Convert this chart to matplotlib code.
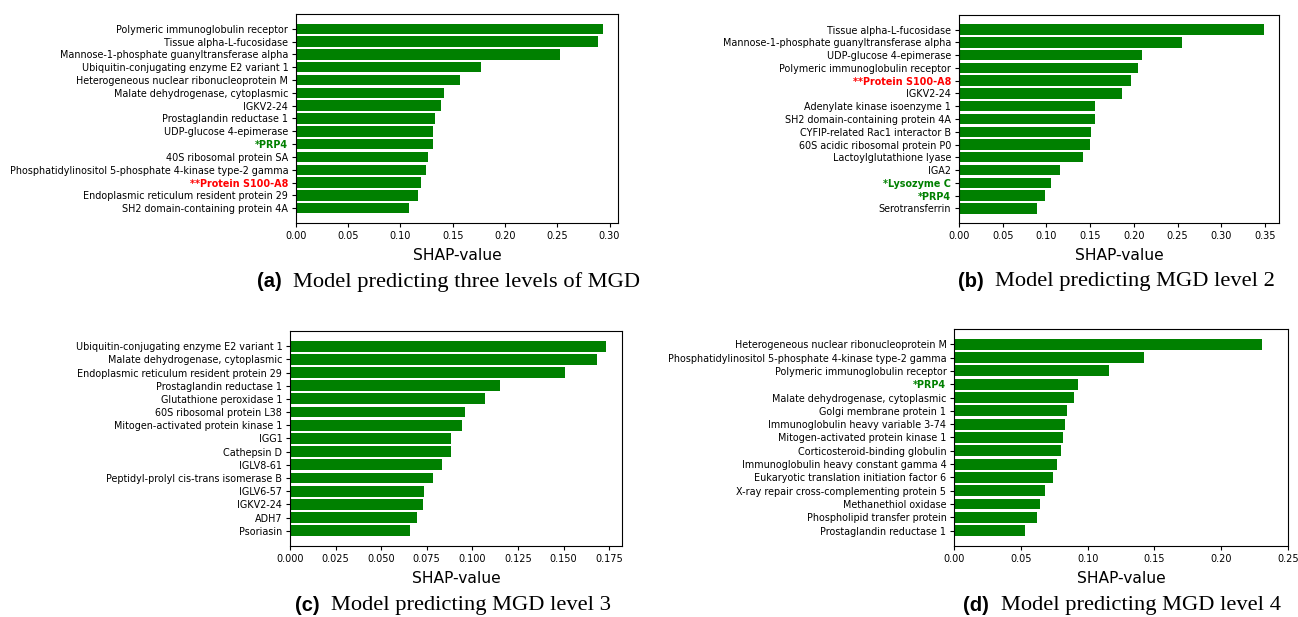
import matplotlib.pyplot as plt

# Panel (a): three levels of MGD
labels_a = ['Polymeric immunoglobulin receptor', 'Tissue alpha-L-fucosidase',
            'Mannose-1-phosphate guanyltransferase alpha', 'Ubiquitin-conjugating enzyme E2 variant 1',
            'Heterogeneous nuclear ribonucleoprotein M', 'Malate dehydrogenase, cytoplasmic',
            'IGKV2-24', 'Prostaglandin reductase 1', 'UDP-glucose 4-epimerase', '*PRP4',
            '40S ribosomal protein SA', 'Phosphatidylinositol 5-phosphate 4-kinase type-2 gamma',
            '**Protein S100-A8', 'Endoplasmic reticulum resident protein 29',
            'SH2 domain-containing protein 4A']
values_a = [0.2934, 0.2887, 0.2524, 0.1767, 0.1568, 0.1416, 0.1385, 0.1330, 0.1311,
            0.1311, 0.1264, 0.1245, 0.1194, 0.1167, 0.1081]

# Panel (b): MGD level 2
labels_b = ['Tissue alpha-L-fucosidase', 'Mannose-1-phosphate guanyltransferase alpha',
            'UDP-glucose 4-epimerase', 'Polymeric immunoglobulin receptor', '**Protein S100-A8',
            'IGKV2-24', 'Adenylate kinase isoenzyme 1', 'SH2 domain-containing protein 4A',
            'CYFIP-related Rac1 interactor B', '60S acidic ribosomal protein P0',
            'Lactoylglutathione lyase', 'IGA2', '*Lysozyme C', '*PRP4', 'Serotransferrin']
values_b = [0.3485, 0.2549, 0.2088, 0.2045, 0.1963, 0.1863, 0.1551, 0.1551, 0.1507,
            0.1493, 0.1416, 0.1152, 0.1047, 0.0979, 0.0898]

# Panel (c): MGD level 3
labels_c = ['Ubiquitin-conjugating enzyme E2 variant 1', 'Malate dehydrogenase, cytoplasmic',
            'Endoplasmic reticulum resident protein 29', 'Prostaglandin reductase 1',
            'Glutathione peroxidase 1', '60S ribosomal protein L38',
            'Mitogen-activated protein kinase 1', 'IGG1', 'Cathepsin D', 'IGLV8-61',
            'Peptidyl-prolyl cis-trans isomerase B', 'IGLV6-57', 'IGKV2-24', 'ADH7', 'Psoriasin']
values_c = [0.1734, 0.1685, 0.1508, 0.1152, 0.1069, 0.0959, 0.0943, 0.0883, 0.0883,
            0.0834, 0.0784, 0.0735, 0.0728, 0.0697, 0.0657]

# Panel (d): MGD level 4
labels_d = ['Heterogeneous nuclear ribonucleoprotein M',
            'Phosphatidylinositol 5-phosphate 4-kinase type-2 gamma',
            'Polymeric immunoglobulin receptor', '*PRP4', 'Malate dehydrogenase, cytoplasmic',
            'Golgi membrane protein 1', 'Immunoglobulin heavy variable 3-74',
            'Mitogen-activated protein kinase 1', 'Corticosteroid-binding globulin',
            'Immunoglobulin heavy constant gamma 4', 'Eukaryotic translation initiation factor 6',
            'X-ray repair cross-complementing protein 5', 'Methanethiol oxidase',
            'Phospholipid transfer protein', 'Prostaglandin reductase 1']
values_d = [0.2305, 0.1421, 0.1160, 0.0928, 0.0896, 0.0846, 0.0830, 0.0814, 0.0799,
            0.0770, 0.0739, 0.0679, 0.0641, 0.0619, 0.0528]

captions = ['(a)', '(b)', '(c)', '(d)']
caption_texts = ['Model predicting three levels of MGD', 'Model predicting MGD level 2',
                 'Model predicting MGD level 3', 'Model predicting MGD level 4']

fig = plt.figure(figsize=(12.98, 6.17), dpi=100)

boxes = [[0.2280, 0.6386, 0.2481, 0.3387],
         [0.7388, 0.6386, 0.2465, 0.3371],
         [0.2234, 0.1151, 0.2558, 0.3485],
         [0.7350, 0.1151, 0.2573, 0.3517]]
# caption positions: x of serif text start, y centre
cap_pos = [(293 / 1298, 0.543), (995 / 1298, 0.543), (331 / 1298, 0.019), (1001 / 1298, 0.019)]

panels = [(labels_a, values_a), (labels_b, values_b), (labels_c, values_c), (labels_d, values_d)]

for i, (labels, values) in enumerate(panels):
    ax = fig.add_axes(boxes[i])
    y = list(range(len(labels)))
    ax.barh(y, values, height=0.82, color='green')
    ax.set_yticks(y)
    ax.set_yticklabels(labels, fontsize=6.9)
    ax.invert_yaxis()
    ax.tick_params(axis='y', length=3, pad=2.5)
    ax.tick_params(axis='x', labelsize=7, length=3, pad=3)
    ax.set_xlabel('SHAP-value', fontsize=11.2, labelpad=5)
    if i == 3:
        ax.set_xlim(0, 0.25)
    # highlight marked proteins
    for t in ax.get_yticklabels():
        s = t.get_text()
        if s.startswith('**'):
            t.set_color('red')
            t.set_fontweight('bold')
        elif s.startswith('*'):
            t.set_color('green')
            t.set_fontweight('bold')

    x0, yc = cap_pos[i]
    fig.text(x0 - 0.009, yc, captions[i], ha='right', va='center', fontsize=14.5,
             fontweight='bold', family='Liberation Sans')
    fig.text(x0, yc, caption_texts[i], ha='left', va='center', fontsize=16.2,
             family='Liberation Serif')

fig.savefig('out.png', dpi=100)
